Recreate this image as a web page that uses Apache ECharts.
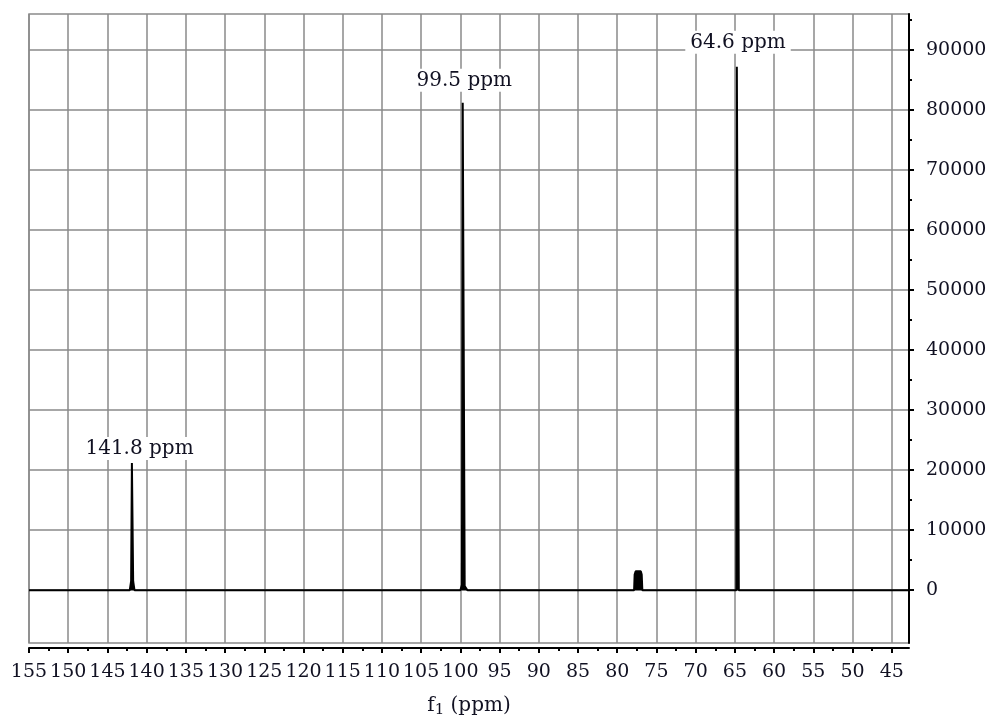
<!DOCTYPE html>
<html>
<head>
<meta charset="utf-8">
<title>13C NMR spectrum</title>
<script src="https://cdn.jsdelivr.net/npm/echarts@6/dist/echarts.min.js"></script>
<style>
  html, body { margin: 0; padding: 0; background: #fff; }
  #chart { width: 994px; height: 727px; }
</style>
</head>
<body>
<div id="chart"></div>
<script>
// spectrum trace: chemical shift (ppm) / intensity
var shiftPpm  = [155, 142.15, 141.98, 141.88, 141.82, 141.72, 141.55, 100.0, 99.8, 99.7, 99.62, 99.45, 99.1, 77.85, 77.78, 77.65, 77.0, 76.88, 76.8, 64.82, 64.75, 64.58, 64.5, 42.8];
var intensity = [0,   0,      1500,   21200,  21200,  1500,   0,      0,     900,  81200, 81200, 700,   0,    0,     2600,  3150,  3150, 2600,  0,    0,     87200, 87200, 0,    0];

// peak annotations
var peakPpm  = [141.8, 99.5, 64.6];
var peakTop  = [21200, 81200, 87200];
var peakText = ['141.8 ppm', '99.5 ppm', '64.6 ppm'];

// axis ticks
var xMajorTicks = [155, 150, 145, 140, 135, 130, 125, 120, 115, 110, 105, 100, 95, 90, 85, 80, 75, 70, 65, 60, 55, 50, 45];
var xMinorTicks = [152.5, 147.5, 142.5, 137.5, 132.5, 127.5, 122.5, 117.5, 112.5, 107.5, 102.5, 97.5, 92.5, 87.5, 82.5, 77.5, 72.5, 67.5, 62.5, 57.5, 52.5, 47.5];
var yMajorTicks = [0, 10000, 20000, 30000, 40000, 50000, 60000, 70000, 80000, 90000];
var yMinorTicks = [5000, 15000, 25000, 35000, 45000, 55000, 65000, 75000, 85000, 95000];

var chart = echarts.init(document.getElementById('chart'));

var serif = 'DejaVu Serif';
var ink = '#111122';
var gridColor = '#8a8a8a';
var xMin = 42.8, xMax = 155, yMin = -8800, yMax = 96000;

var trace = shiftPpm.map(function (p, i) { return [p, intensity[i]]; });

// small nudges for the label boxes (px)
var labelOffsets = [[7, 5], [0, -3], [0, -5]];
var peaks = peakPpm.map(function (p, i) {
    return {
        value: [p, peakTop[i]],
        label: { formatter: peakText[i], offset: labelOffsets[i] }
    };
});

var option = {
    animation: false,
    grid: {
        left: 29, right: 85, top: 14, bottom: 84,
        show: true,
        borderColor: gridColor,
        borderWidth: 1.5
    },
    xAxis: [
        {
            type: 'value',
            inverse: true,
            min: xMin, max: xMax,
            position: 'bottom',
            offset: 5,
            axisLine: { onZero: false, lineStyle: { color: '#000', width: 2 } },
            axisTick: { customValues: xMajorTicks, length: 5, lineStyle: { color: '#000', width: 2 } },
            axisLabel: {
                customValues: xMajorTicks,
                margin: 15,
                fontFamily: serif, fontSize: 19, color: ink
            },
            splitLine: { show: true, lineStyle: { color: gridColor, width: 1.5 } },
            name: '{a|f}{s|1}{a| (ppm)}',
            nameLocation: 'middle',
            nameGap: 45,
            nameTextStyle: {
                rich: {
                    a: { fontFamily: serif, fontSize: 20, color: ink },
                    s: { fontFamily: serif, fontSize: 15, color: ink, verticalAlign: 'bottom', padding: [10, 0, 0, 0] }
                }
            }
        },
        {
            type: 'value',
            inverse: true,
            min: xMin, max: xMax,
            position: 'bottom',
            offset: 5,
            axisLine: { show: false, onZero: false },
            axisTick: { customValues: xMinorTicks, length: 3, lineStyle: { color: '#000', width: 2 } },
            axisLabel: { show: false },
            splitLine: { show: false }
        }
    ],
    yAxis: [
        {
            type: 'value',
            min: yMin, max: yMax,
            position: 'right',
            axisLine: { show: true, onZero: false, lineStyle: { color: '#000', width: 2 } },
            axisTick: { show: true, customValues: yMajorTicks, length: 5, lineStyle: { color: '#000', width: 2 } },
            axisLabel: {
                customValues: yMajorTicks,
                margin: 17,
                formatter: function (v) { return String(v); },
                fontFamily: serif, fontSize: 19, color: ink
            },
            splitLine: { show: true, lineStyle: { color: gridColor, width: 1.5 } }
        },
        {
            type: 'value',
            min: yMin, max: yMax,
            position: 'right',
            axisLine: { show: false, onZero: false },
            axisTick: { show: true, customValues: yMinorTicks, length: 3, lineStyle: { color: '#000', width: 2 } },
            axisLabel: { show: false },
            splitLine: { show: false }
        }
    ],
    series: [
        {
            type: 'line',
            data: trace,
            showSymbol: false,
            symbol: 'none',
            lineStyle: { color: '#000', width: 2 },
            areaStyle: { color: '#000', opacity: 1 },
            z: 3
        },
        {
            type: 'scatter',
            data: peaks,
            symbolSize: 0,
            itemStyle: { opacity: 1 },
            label: {
                show: true,
                position: 'top',
                distance: 8,
                fontFamily: serif,
                fontSize: 20,
                color: ink,
                backgroundColor: '#fff',
                padding: [2, 5, 1, 5]
            },
            z: 4
        }
    ]
};

chart.setOption(option);
</script>
</body>
</html>
